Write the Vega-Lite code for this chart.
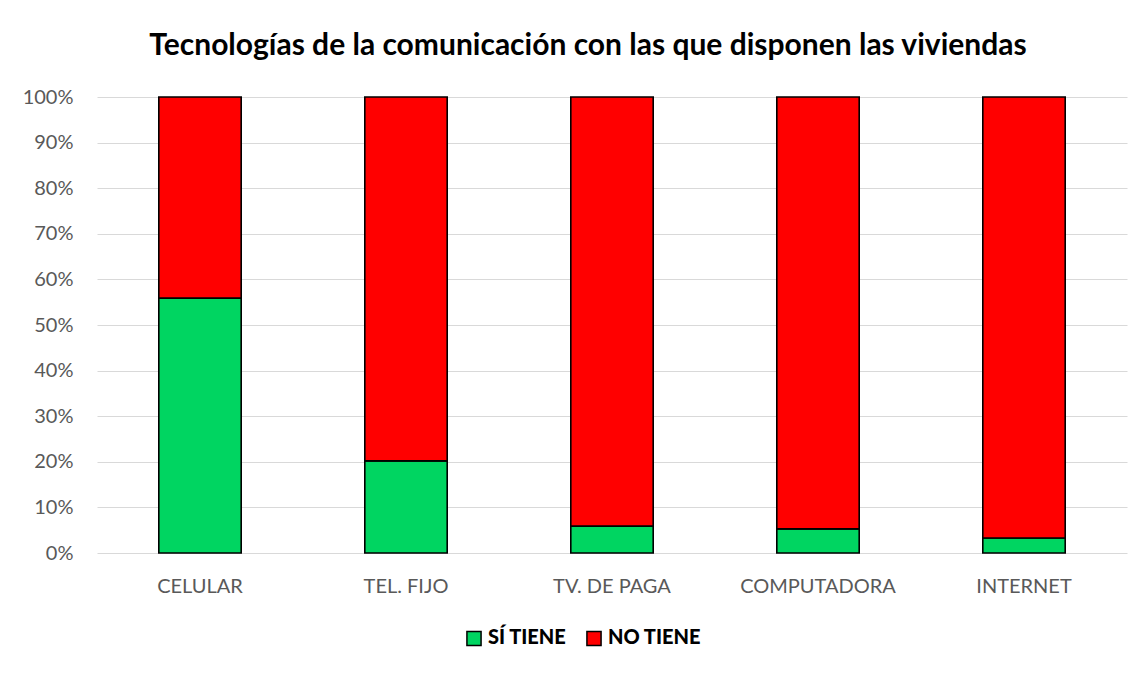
{
  "$schema": "https://vega.github.io/schema/vega-lite/v6.json",
  "width": 1030,
  "height": 456,
  "autosize": "none",
  "padding": {"left": 97, "top": 97, "right": 21, "bottom": 120},
  "background": "white",
  "title": {
    "text": "Tecnologías de la comunicación con las que disponen las viviendas",
    "font": "Lato",
    "fontSize": 30,
    "fontWeight": "bold",
    "color": "#000000",
    "anchor": "middle",
    "dx": -24,
    "offset": 26
  },
  "data": {
    "values": [
      {"tecnologia": "CELULAR", "tipo": "SÍ TIENE", "valor": 0.559},
      {"tecnologia": "CELULAR", "tipo": "NO TIENE", "valor": 0.441},
      {"tecnologia": "TEL. FIJO", "tipo": "SÍ TIENE", "valor": 0.202},
      {"tecnologia": "TEL. FIJO", "tipo": "NO TIENE", "valor": 0.798},
      {"tecnologia": "TV. DE PAGA", "tipo": "SÍ TIENE", "valor": 0.059},
      {"tecnologia": "TV. DE PAGA", "tipo": "NO TIENE", "valor": 0.941},
      {"tecnologia": "COMPUTADORA", "tipo": "SÍ TIENE", "valor": 0.053},
      {"tecnologia": "COMPUTADORA", "tipo": "NO TIENE", "valor": 0.947},
      {"tecnologia": "INTERNET", "tipo": "SÍ TIENE", "valor": 0.033},
      {"tecnologia": "INTERNET", "tipo": "NO TIENE", "valor": 0.967}
    ]
  },
  "mark": {"type": "bar", "stroke": "#000000", "strokeWidth": 1.6},
  "encoding": {
    "x": {
      "field": "tecnologia",
      "type": "nominal",
      "sort": ["CELULAR", "TEL. FIJO", "TV. DE PAGA", "COMPUTADORA", "INTERNET"],
      "scale": {"paddingInner": 0.6, "paddingOuter": 0.3},
      "axis": {
        "title": null,
        "labelAngle": 0,
        "ticks": false,
        "domain": false,
        "labelFont": "Lato",
        "labelFontSize": 20,
        "labelColor": "#595959",
        "labelPadding": 23
      }
    },
    "y": {
      "field": "valor",
      "type": "quantitative",
      "stack": "zero",
      "scale": {"domain": [0, 1], "nice": false},
      "axis": {
        "title": null,
        "values": [0, 0.1, 0.2, 0.3, 0.4, 0.5, 0.6, 0.7, 0.8, 0.9, 1],
        "format": ".0%",
        "ticks": false,
        "domain": false,
        "gridColor": "#D9D9D9",
        "gridWidth": 1.2,
        "labelFont": "Lato",
        "labelFontSize": 20,
        "labelColor": "#595959",
        "labelPadding": 24
      }
    },
    "color": {
      "field": "tipo",
      "type": "nominal",
      "sort": ["SÍ TIENE", "NO TIENE"],
      "scale": {"domain": ["SÍ TIENE", "NO TIENE"], "range": ["#00D561", "#FF0000"]},
      "legend": {
        "title": null,
        "orient": "none",
        "direction": "horizontal",
        "legendX": 367,
        "legendY": 531,
        "symbolType": "square",
        "symbolSize": 200,
        "symbolStrokeColor": "#000000",
        "symbolStrokeWidth": 1.5,
        "labelFont": "Lato",
        "labelFontSize": 20,
        "labelFontWeight": 900,
        "labelColor": "#000000",
        "columnPadding": 16,
        "labelOffset": 4
      }
    },
    "order": {"field": "tipo", "sort": "descending"}
  },
  "config": {"view": {"stroke": null}}
}
